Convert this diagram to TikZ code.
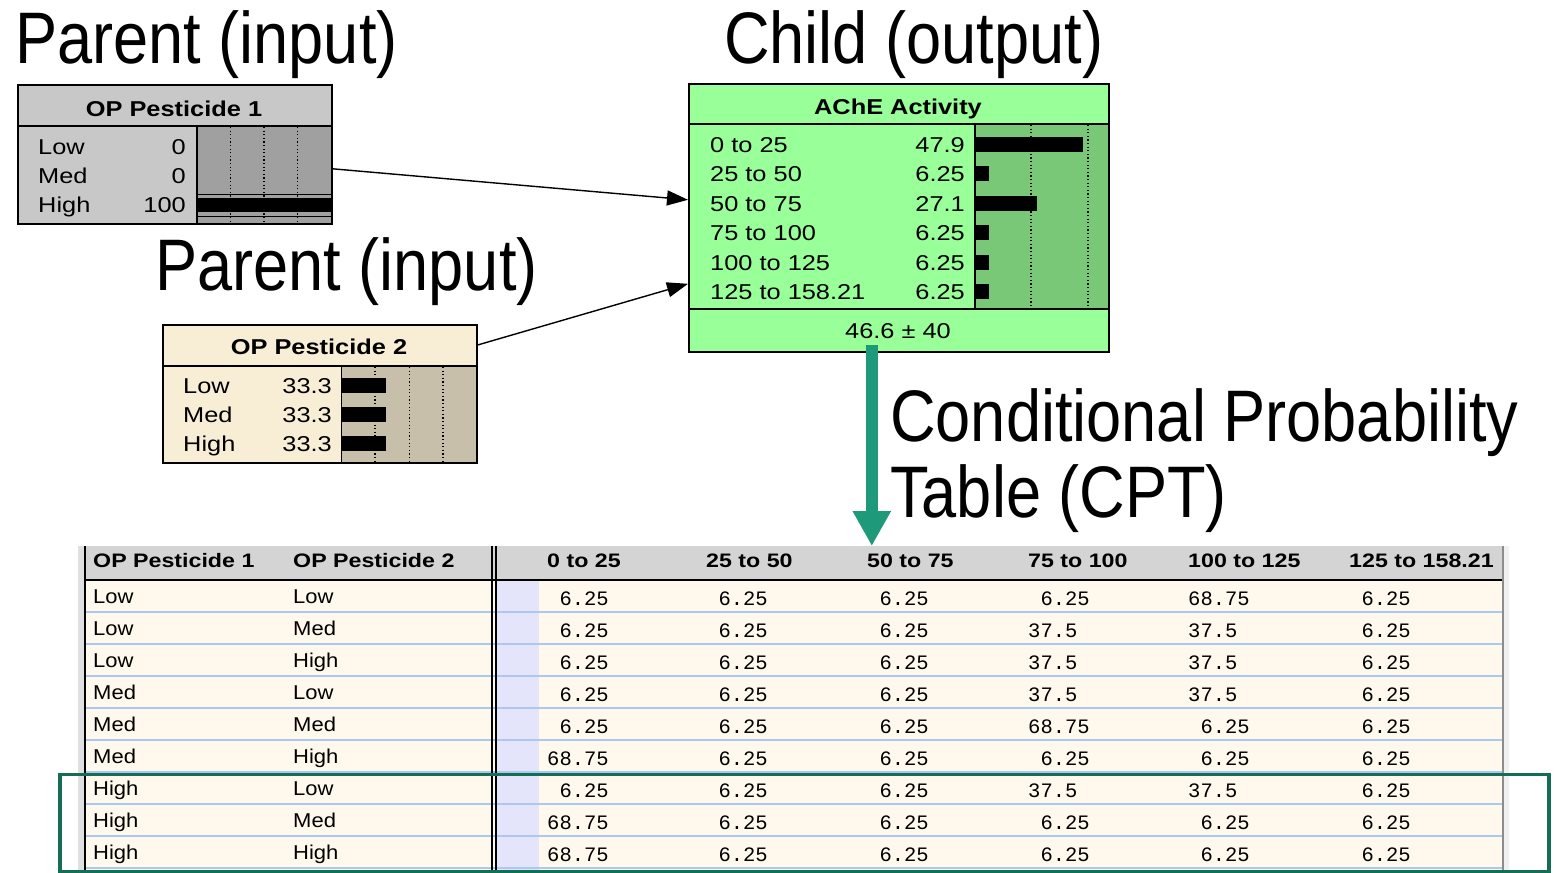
\documentclass[tikz,border=0pt]{standalone}
\usepackage{graphicx}
\usepackage{fontspec}
\setmainfont{Liberation Sans}
\newfontfamily\monof{Liberation Mono}
\usetikzlibrary{arrows.meta}
\definecolor{pagray}{RGB}{200,200,200}
\definecolor{pagrayd}{RGB}{160,160,160}
\definecolor{pacream}{RGB}{247,238,213}
\definecolor{pacreamd}{RGB}{200,191,170}
\definecolor{chgreen}{RGB}{153,255,153}
\definecolor{chgreend}{RGB}{120,200,120}
\definecolor{tealarr}{RGB}{30,154,122}
\definecolor{hlgreen}{RGB}{20,110,85}
\definecolor{thgray}{RGB}{212,212,212}
\definecolor{tdcream}{RGB}{255,249,237}
\definecolor{tdlav}{RGB}{228,228,250}
\definecolor{rowsep}{RGB}{170,200,240}
\newcommand{\hs}[1]{\scalebox{1.18}[1]{#1}}
\newcommand{\ths}[1]{\scalebox{1.19}[1]{#1}}
\newcommand{\trs}[1]{\scalebox{1.1}[1]{#1}}
\newcommand{\tts}[1]{\scalebox{0.865}[1]{#1}}
\newcommand{\pz}{\hphantom{0}}
\tikzset{
  ttl/.style={anchor=base west, inner sep=0, font=\fontsize{73}{80}\selectfont},
  boxline/.style={draw=black, line width=1.6pt, inner sep=0, anchor=north west},
  hdr/.style={anchor=base, inner sep=0, font=\fontsize{21.5}{24}\selectfont\bfseries},
  lbl/.style={anchor=base west, inner sep=0, font=\fontsize{21.5}{24}\selectfont},
  val/.style={anchor=base east, inner sep=0, font=\fontsize{21.5}{24}\selectfont},
  dotl/.style={line width=1.2pt, dash pattern=on 1.2pt off 2.4pt},
  arr/.style={line width=1.4pt, -{Triangle[length=21pt,width=15pt]}},
  th/.style={anchor=base west, inner sep=0, font=\fontsize{19.5}{22}\selectfont\bfseries},
  tr/.style={anchor=base west, inner sep=0, font=\fontsize{20}{22}\selectfont},
  td/.style={anchor=base west, inner sep=0, font=\fontsize{20.5}{22}\monof},
}
\begin{document}
\begin{tikzpicture}[x=1pt,y=-1pt]
\useasboundingbox (0,0) rectangle (1556,873);
\fill[white] (0,0) rectangle (1556,873);

% ---------- titles
\node[ttl] (title1) at (15,63) {\tts{Parent (input)}};
\node[ttl] (title2) at (724,63) {\tts{Child (output)}};
\node[ttl] (title3) at (155,290) {\tts{Parent (input)}};
\node[ttl] (title4) at (890,441) {\tts{Conditional Probability}};
\node[ttl] (title5) at (890,517) {\tts{Table (CPT)}};

% ---------- OP Pesticide 1
\fill[pagray] (17,84) rectangle (331,223);
\fill[pagrayd] (197,126) rectangle (331,223);
\foreach \x in {230.5,264,297.5} \draw[dotl] (\x,127) -- (\x,222);
\draw[line width=1pt] (197,194) -- (331,194);
\fill[black] (197,198) rectangle (331,212);
\draw[line width=1pt] (197,216.5) -- (331,216.5);
\draw[line width=1.6pt] (17,126) -- (331,126);
\draw[line width=1.6pt] (197,126) -- (197,223);
\node[boxline, minimum width=314pt, minimum height=139pt] (p1) at (17,84) {};
\node[hdr] (p1h) at (174,116) {\hs{OP Pesticide 1}};
\node[lbl] (p1l1) at (38,154) {\hs{Low}};
\node[lbl] (p1l2) at (38,183) {\hs{Med}};
\node[lbl] (p1l3) at (38,212) {\hs{High}};
\node[val] (p1v1) at (186,154) {\hs{0}};
\node[val] (p1v2) at (186,183) {\hs{0}};
\node[val] (p1v3) at (186,212) {\hs{100}};

% ---------- OP Pesticide 2
\fill[pacream] (162,324) rectangle (476,462);
\fill[pacreamd] (341.5,366) rectangle (476,462);
\foreach \x in {375,409.5,443} \draw[dotl] (\x,367) -- (\x,461);
\foreach \b in {393,422,451} \fill[black] (341.5,\b-15) rectangle (386,\b);
\draw[line width=1.6pt] (162,366) -- (476,366);
\draw[line width=1.6pt] (341.5,366) -- (341.5,462);
\node[boxline, minimum width=314pt, minimum height=138pt] (p2) at (162,324) {};
\node[hdr] (p2h) at (319,354) {\hs{OP Pesticide 2}};
\node[lbl] (p2l1) at (183,393) {\hs{Low}};
\node[lbl] (p2l2) at (183,422) {\hs{Med}};
\node[lbl] (p2l3) at (183,451) {\hs{High}};
\node[val] (p2v1) at (332,393) {\hs{33.3}};
\node[val] (p2v2) at (332,422) {\hs{33.3}};
\node[val] (p2v3) at (332,451) {\hs{33.3}};

% ---------- AChE Activity
\fill[chgreen] (688,83) rectangle (1108,351);
\fill[chgreend] (975,124) rectangle (1108,309);
\foreach \x in {1031,1088} \draw[dotl] (\x,125) -- (\x,308);
\foreach \b/\r in {152/1083,181/989,211/1037,240/989,270/989,299/989}
  \fill[black] (975,\b-15) rectangle (\r,\b);
\draw[line width=1.6pt] (688,124) -- (1108,124);
\draw[line width=1.6pt] (688,309) -- (1108,309);
\draw[line width=1.6pt] (975,124) -- (975,309);
\node[boxline, minimum width=420pt, minimum height=268pt] (ache) at (688,83) {};
\node[hdr] (acheh) at (898,114) {\hs{AChE Activity}};
\node[lbl] (al1) at (710,152) {\hs{0 to 25}};
\node[lbl] (al2) at (710,181) {\hs{25 to 50}};
\node[lbl] (al3) at (710,211) {\hs{50 to 75}};
\node[lbl] (al4) at (710,240) {\hs{75 to 100}};
\node[lbl] (al5) at (710,270) {\hs{100 to 125}};
\node[lbl] (al6) at (710,299) {\hs{125 to 158.21}};
\node[val] (av1) at (965,152) {\hs{47.9}};
\node[val] (av2) at (965,181) {\hs{6.25}};
\node[val] (av3) at (965,211) {\hs{27.1}};
\node[val] (av4) at (965,240) {\hs{6.25}};
\node[val] (av5) at (965,270) {\hs{6.25}};
\node[val] (av6) at (965,299) {\hs{6.25}};
\node[hdr, font=\fontsize{21.5}{24}\selectfont] (afoot) at (898,338) {\hs{46.6 ± 40}};

% ---------- connectors
\draw[arr] ([yshift=-14.5pt]p1.east) -- ([yshift=18pt]ache.west);
\draw[arr] ([yshift=-21pt]p2.north east) -- ([yshift=-66pt]ache.west);

% ---------- CPT table
\fill[black!12] (78,546) rectangle (84,873);
\fill[thgray] (85,546) rectangle (1503,580);
\fill[tdcream] (85,580) rectangle (1502,873);
\fill[tdlav] (497,580) rectangle (539,873);
\foreach \i in {1,...,9} \draw[rowsep, line width=1.6pt] (85,580+32*\i) -- (1502,580+32*\i);
\draw[line width=1.6pt] (85,580) -- (1503,580);
\draw[line width=1.2pt] (85,546) -- (85,873);
\draw[line width=1.2pt] (492,546) -- (492,873);
\draw[line width=1.2pt] (496,546) -- (496,873);
\draw[black!45, line width=1.2pt] (1503,546) -- (1503,873);
\fill[black!6] (1504,546) rectangle (1509,873);
\node[inner sep=0, anchor=north west, minimum width=1418pt, minimum height=324pt] (cpt) at (85,546) {};

\node[th] (h1) at (93,567) {\ths{OP Pesticide 1}};
\node[th] (h2) at (293,567) {\ths{OP Pesticide 2}};
\node[th] (h3) at (547,567) {\ths{0 to 25}};
\node[th] (h4) at (706,567) {\ths{25 to 50}};
\node[th] (h5) at (867,567) {\ths{50 to 75}};
\node[th] (h6) at (1028,567) {\ths{75 to 100}};
\node[th] (h7) at (1188,567) {\ths{100 to 125}};
\node[th] (h8) at (1349,567) {\ths{125 to 158.21}};

\foreach \i/\pa/\pb/\va/\vb/\vc/\vd/\ve/\vf in {
  1/Low/Low/\pz6.25/\pz6.25/\pz6.25/\pz6.25/68.75/\pz6.25,
  2/Low/Med/\pz6.25/\pz6.25/\pz6.25/37.5/37.5/\pz6.25,
  3/Low/High/\pz6.25/\pz6.25/\pz6.25/37.5/37.5/\pz6.25,
  4/Med/Low/\pz6.25/\pz6.25/\pz6.25/37.5/37.5/\pz6.25,
  5/Med/Med/\pz6.25/\pz6.25/\pz6.25/68.75/\pz6.25/\pz6.25,
  6/Med/High/68.75/\pz6.25/\pz6.25/\pz6.25/\pz6.25/\pz6.25,
  7/High/Low/\pz6.25/\pz6.25/\pz6.25/37.5/37.5/\pz6.25,
  8/High/Med/68.75/\pz6.25/\pz6.25/\pz6.25/\pz6.25/\pz6.25,
  9/High/High/68.75/\pz6.25/\pz6.25/\pz6.25/\pz6.25/\pz6.25}{
  \node[tr] (ra\i) at (93,603+32*\i-32) {\trs{\pa}};
  \node[tr] (rb\i) at (293,603+32*\i-32) {\trs{\pb}};
  \node[td] (c1\i) at (547,605+32*\i-32) {\va};
  \node[td] (c2\i) at (706,605+32*\i-32) {\vb};
  \node[td] (c3\i) at (867,605+32*\i-32) {\vc};
  \node[td] (c4\i) at (1028,605+32*\i-32) {\vd};
  \node[td] (c5\i) at (1188,605+32*\i-32) {\ve};
  \node[td] (c6\i) at (1349,605+32*\i-32) {\vf};
}

% ---------- highlight box
\node[draw=hlgreen, line width=3.8pt, inner sep=0, anchor=north west, minimum width=1489pt, minimum height=97pt] (hl) at (58,772.5) {};

% ---------- CPT arrow
\draw[tealarr, line width=12pt, -{Triangle[length=35pt,width=36pt]}]
  ([xshift=-27pt,yshift=8pt]ache.south) -- ([xshift=-27pt]ache.south |- cpt.north);
\end{tikzpicture}
\end{document}
